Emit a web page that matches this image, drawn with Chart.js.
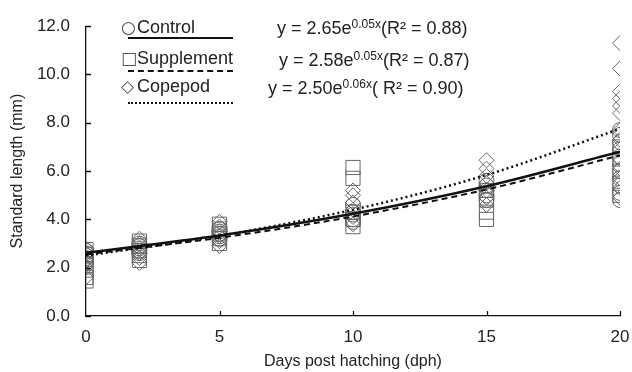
<!DOCTYPE html>
<html>
<head>
<meta charset="utf-8">
<script src="https://cdn.jsdelivr.net/npm/chart.js@4.4.0/dist/chart.umd.min.js"></script>
<style>
  body { margin: 0; background: #fff; }
  #wrap { position: relative; width: 632px; height: 372px; font-family: "Liberation Sans", Arial, sans-serif; color: #222; }
  #growthChart { position: absolute; left: 0; top: 0; }
  .lg { position: absolute; font-size: 18px; line-height: 20px; white-space: nowrap; }
  .lg .sym { display: inline-block; width: 16px; font-family: "DejaVu Sans"; font-size: 17px; color: #555; }
  .eq { position: absolute; font-size: 18px; line-height: 20px; white-space: nowrap; }
  .eq sup { font-size: 12px; vertical-align: 6px; line-height: 0; }
  .ln { position: absolute; left: 128px; width: 105px; height: 0; }
</style>
</head>
<body>
<div id="wrap">
  <canvas id="growthChart" width="632" height="372"></canvas>
  <div class="lg" style="left:121px; top:17px;"><span class="sym">○</span>Control</div>
  <div class="ln" style="top:37px; border-top:2.5px solid #111;"></div>
  <div class="lg" style="left:121px; top:48px;"><span class="sym">□</span>Supplement</div>
  <div class="ln" style="top:70px; border-top:2px dashed #111;"></div>
  <div class="lg" style="left:121px; top:76px;"><span class="sym">◇</span>Copepod</div>
  <div class="ln" style="top:102px; border-top:2.5px dotted #111;"></div>
  <div class="eq" style="left:277px; top:18px;">y = 2.65e<sup>0.05x</sup>(R² = 0.88)</div>
  <div class="eq" style="left:279px; top:50px;">y = 2.58e<sup>0.05x</sup>(R² = 0.87)</div>
  <div class="eq" style="left:268px; top:78px;">y = 2.50e<sup>0.06x</sup>( R² = 0.90)</div>
</div>
<script>
// sampling days (dph)
const days = [0, 2, 5, 10, 15, 20];

// standard length (mm) per sampling day
const controlSL = [
  [2.2, 2.4, 2.6, 2.7, 2.5, 2.3],
  [2.6, 2.8, 3.0, 2.7, 2.9],
  [3.2, 3.4, 3.6, 3.3, 3.5],
  [4.0, 4.3, 4.6, 4.2, 3.9],
  [4.8, 5.2, 5.6, 5.0, 5.4],
  [4.8, 5.1, 5.4, 5.7, 6.0, 6.3, 6.6, 6.9, 7.2, 7.5, 7.7]
];
const supplementSL = [
  [2.75, 2.55, 2.35, 2.1, 1.9, 1.6, 1.45],
  [2.3, 2.5, 2.7, 2.9, 3.1],
  [3.0, 3.2, 3.4, 3.6, 3.8],
  [3.7, 4.0, 4.3, 5.7, 6.15],
  [4.0, 4.3, 4.8, 5.2],
  [5.0, 5.5, 6.0, 6.5, 7.0]
];
const copepodSL = [
  [1.6, 2.0, 2.3, 2.6, 2.8],
  [2.2, 2.4, 2.6, 2.8, 3.0, 3.2],
  [2.9, 3.1, 3.3, 3.5, 3.7, 3.9],
  [3.8, 4.1, 4.4, 4.7, 5.0, 5.2],
  [4.6, 4.9, 5.2, 5.5, 5.8, 6.1, 6.45],
  [4.9, 5.3, 5.7, 6.1, 6.5, 6.9, 7.3, 7.7, 8.4, 8.7, 9.0, 9.3, 10.25, 11.3]
];

// exponential trend lines, read at these days
const fitDays = [0, 5, 10, 15, 20];
const controlFit = [2.62, 3.33, 4.23, 5.37, 6.8];
const supplementFit = [2.55, 3.24, 4.12, 5.24, 6.65];
const copepodFit = [2.5, 3.32, 4.4, 5.84, 7.75];

const yTicks = [0, 2, 4, 6, 8, 10, 12];
const xTicks = [0, 5, 10, 15, 20];

function toPoints(groups) {
  const pts = [];
  groups.forEach((vals, i) => vals.forEach(v => pts.push({ x: days[i], y: v })));
  return pts;
}
function fitPoints(vals) {
  return vals.map((v, i) => ({ x: fitDays[i], y: v }));
}

const markerColor = "#666";
const lineBase = {
  type: "line",
  pointRadius: 0,
  borderColor: "#111",
  fill: false,
  cubicInterpolationMode: "monotone",
  order: 0
};

// tick marks pointing into the plot
const innerTicks = {
  id: "innerTicks",
  afterDatasetsDraw(chart) {
    const { ctx, scales: { x, y } } = chart;
    ctx.save();
    ctx.strokeStyle = "#111";
    ctx.lineWidth = 1.3;
    ctx.beginPath();
    yTicks.forEach(v => {
      const py = Math.round(y.getPixelForValue(v)) + 0.5;
      ctx.moveTo(x.left, py);
      ctx.lineTo(x.left + 5, py);
    });
    xTicks.slice(1).forEach(v => {
      const px = Math.round(x.getPixelForValue(v)) + 0.5;
      ctx.moveTo(px, y.bottom);
      ctx.lineTo(px, y.bottom - 5);
    });
    ctx.stroke();
    ctx.restore();
  }
};

new Chart(document.getElementById("growthChart"), {
  type: "scatter",
  data: {
    datasets: [
      {
        label: "Control",
        data: toPoints(controlSL),
        pointStyle: "circle",
        pointRadius: 7.5,
        borderColor: markerColor,
        backgroundColor: "rgba(255,255,255,0)",
        borderWidth: 1,
        order: 3
      },
      {
        label: "Supplement",
        data: toPoints(supplementSL),
        pointStyle: "rect",
        pointRadius: 10,
        borderColor: markerColor,
        backgroundColor: "rgba(255,255,255,0)",
        borderWidth: 1,
        order: 2
      },
      {
        label: "Copepod",
        data: toPoints(copepodSL),
        pointStyle: "rectRot",
        pointRadius: 7.5,
        borderColor: markerColor,
        backgroundColor: "rgba(255,255,255,0)",
        borderWidth: 1,
        order: 1
      },
      Object.assign({}, lineBase, { label: "Control fit", data: fitPoints(controlFit), borderWidth: 2.5 }),
      Object.assign({}, lineBase, { label: "Supplement fit", data: fitPoints(supplementFit), borderWidth: 2, borderDash: [6, 4] }),
      Object.assign({}, lineBase, { label: "Copepod fit", data: fitPoints(copepodFit), borderWidth: 2.5, borderDash: [2, 3] })
    ]
  },
  options: {
    responsive: false,
    animation: false,
    layout: { padding: { top: 22, right: 12, left: 0, bottom: 0 } },
    plugins: { legend: { display: false }, tooltip: { enabled: false } },
    scales: {
      x: {
        type: "linear",
        min: 0,
        max: 20,
        afterFit(scale) {
          scale.height = 56;
          scale.paddingRight = 0;
          scale.paddingLeft = 0;
        },
        afterBuildTicks(scale) { scale.ticks = xTicks.map(v => ({ value: v })); },
        grid: { display: false, drawTicks: false },
        border: { display: true, color: "#111", width: 1.3 },
        ticks: { color: "#222", font: { family: "Liberation Sans", size: 17 }, padding: 11, maxRotation: 0 },
        title: {
          display: true,
          text: "Days post hatching (dph)",
          color: "#222",
          font: { family: "Liberation Sans", size: 16 },
          padding: { top: 0, bottom: 1 }
        }
      },
      y: {
        type: "linear",
        min: 0,
        max: 12,
        afterFit(scale) { scale.width = 86; },
        afterBuildTicks(scale) { scale.ticks = yTicks.map(v => ({ value: v })); },
        grid: { display: false, drawTicks: false },
        border: { display: true, color: "#111", width: 1.3 },
        ticks: {
          color: "#222",
          font: { family: "Liberation Sans", size: 17 },
          padding: 16,
          callback: v => v.toFixed(1)
        },
        title: {
          display: true,
          text: "Standard length (mm)",
          color: "#222",
          font: { family: "Liberation Sans", size: 16 },
          padding: { top: 8, bottom: 0 }
        }
      }
    }
  },
  plugins: [innerTicks]
});
</script>
</body>
</html>
